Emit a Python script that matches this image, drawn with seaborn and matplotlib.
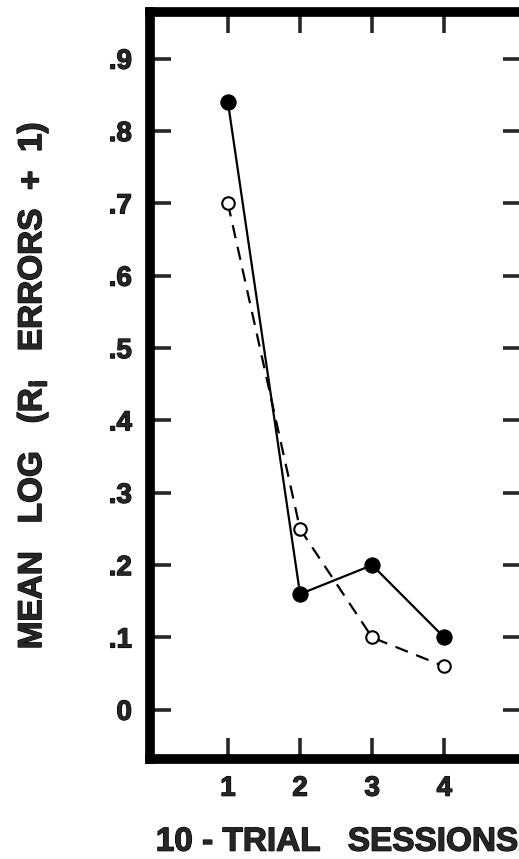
import pandas as pd
import numpy as np
import matplotlib
matplotlib.use("Agg")
import matplotlib.pyplot as plt
import matplotlib.patheffects as pe
import seaborn as sns

# data
sessions = [1, 2, 3, 4]
filled_vals = [0.84, 0.16, 0.20, 0.10]
open_vals = [0.70, 0.25, 0.10, 0.06]
y_ticks = [0, 0.1, 0.2, 0.3, 0.4, 0.5, 0.6, 0.7, 0.8, 0.9]
y_labels = ["0", ".1", ".2", ".3", ".4", ".5", ".6", ".7", ".8", ".9"]

df = pd.DataFrame({
    "session": sessions * 2,
    "value": filled_vals + open_vals,
    "group": ["filled"] * 4 + ["open"] * 4,
})

sns.set_style("white")
plt.rcParams['font.family'] = ['Liberation Sans', 'DejaVu Sans']
plt.rcParams['font.weight'] = 'bold'
plt.rcParams['mathtext.default'] = 'bf'

heavy = [pe.withStroke(linewidth=0.9, foreground="black")]

fig = plt.figure(figsize=(5.19, 8.59), dpi=100)
ax = fig.add_axes([0.289, 0.1164, 0.72, 0.87])

# solid line with filled circles
sns.lineplot(data=df[df.group == "filled"], x="session", y="value", ax=ax,
             color="black", lw=1.6, marker="o", markersize=11,
             markerfacecolor="black", markeredgecolor="black", zorder=3)
# dashed line with open circles
sns.lineplot(data=df[df.group == "open"], x="session", y="value", ax=ax,
             color="black", lw=1.6, linestyle=(0, (6, 4)), marker="o", markersize=9,
             markerfacecolor="white", markeredgecolor="black", markeredgewidth=1.5, zorder=4)

ax.set_xlim(-0.08, 5.1)
ax.set_ylim(-0.068, 0.965)
ax.set_xticks(sessions)
ax.set_xticklabels([str(s) for s in sessions], fontsize=20, fontweight='bold')
ax.set_yticks(y_ticks)
ax.set_yticklabels(y_labels, fontsize=20, fontweight='bold')
for t in ax.get_xticklabels() + ax.get_yticklabels():
    t.set_path_effects(heavy)

for s in ax.spines.values():
    s.set_linewidth(7)
    s.set_color("black")

ax.tick_params(axis="both", which="major", direction="in", length=15, width=2.6,
               top=True, right=True, bottom=True, left=True, pad=13)
ax.tick_params(axis="x", pad=12)

ax.set_xlabel("10 - TRIAL   SESSIONS", fontsize=24, fontweight='bold', labelpad=18,
              path_effects=heavy)
ax.set_ylabel("MEAN   LOG   (R$_\\mathbf{i}$   ERRORS  +  1)", fontsize=24, fontweight='bold',
              labelpad=42, path_effects=heavy)

fig.savefig("out.png", dpi=100)
